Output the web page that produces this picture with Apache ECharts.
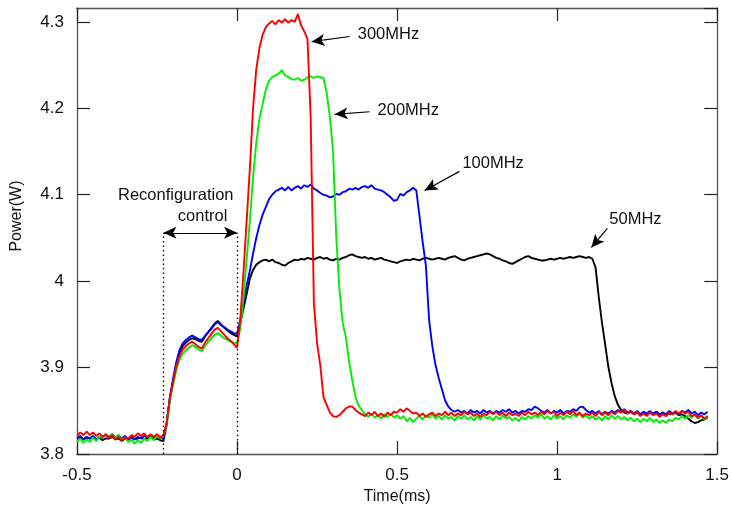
<!DOCTYPE html>
<html><head><meta charset="utf-8">
<script src="https://cdn.jsdelivr.net/npm/echarts@6/dist/echarts.min.js"></script>
<style>html,body{margin:0;padding:0;background:#fff}#c{width:732px;height:510px}</style>
</head><body><div id="c"></div>
<script>
// Time grid (ms)
const time = [
-0.50,-0.49,-0.48,-0.47,-0.46,-0.45,-0.44,-0.43,-0.42,-0.41,
-0.40,-0.39,-0.38,-0.37,-0.36,-0.35,-0.34,-0.33,-0.32,-0.31,
-0.30,-0.29,-0.28,-0.27,-0.26,-0.25,-0.24,-0.23,-0.22,-0.21,
-0.20,-0.19,-0.18,-0.17,-0.16,-0.15,-0.14,-0.13,-0.12,-0.11,
-0.10,-0.09,-0.08,-0.07,-0.06,-0.05,-0.04,-0.03,-0.02,-0.01,
0.00,0.01,0.02,0.03,0.04,0.05,0.06,0.07,0.08,0.09,
0.10,0.11,0.12,0.13,0.14,0.15,0.16,0.17,0.18,0.19,
0.20,0.21,0.22,0.23,0.24,0.25,0.26,0.27,0.28,0.29,
0.30,0.31,0.32,0.33,0.34,0.35,0.36,0.37,0.38,0.39,
0.40,0.41,0.42,0.43,0.44,0.45,0.46,0.47,0.48,0.49,
0.50,0.51,0.52,0.53,0.54,0.55,0.56,0.57,0.58,0.59,
0.60,0.61,0.62,0.63,0.64,0.65,0.66,0.67,0.68,0.69,
0.70,0.71,0.72,0.73,0.74,0.75,0.76,0.77,0.78,0.79,
0.80,0.81,0.82,0.83,0.84,0.85,0.86,0.87,0.88,0.89,
0.90,0.91,0.92,0.93,0.94,0.95,0.96,0.97,0.98,0.99,
1.00,1.01,1.02,1.03,1.04,1.05,1.06,1.07,1.08,1.09,
1.10,1.11,1.12,1.13,1.14,1.15,1.16,1.17,1.18,1.19,
1.20,1.21,1.22,1.23,1.24,1.25,1.26,1.27,1.28,1.29,
1.30,1.31,1.32,1.33,1.34,1.35,1.36,1.37,1.38,1.39,
1.40,1.41,1.42,1.43,1.44,1.45,1.46,1.47
];

// Power (W) at 300 MHz
const power300 = [
3.821,3.825,3.822,3.826,3.822,3.825,3.821,3.824,3.820,3.823,
3.819,3.822,3.817,3.820,3.816,3.819,3.818,3.822,3.820,3.824,
3.821,3.824,3.820,3.823,3.820,3.823,3.819,3.822,3.835,3.864,
3.883,3.901,3.913,3.921,3.925,3.928,3.930,3.927,3.924,3.922,
3.929,3.934,3.939,3.944,3.946,3.942,3.938,3.934,3.931,3.927,
3.923,3.955,4.010,4.070,4.130,4.200,4.245,4.270,4.285,4.294,
4.298,4.301,4.297,4.302,4.299,4.303,4.299,4.302,4.300,4.309,
4.296,4.289,4.280,4.190,3.975,3.928,3.903,3.866,3.857,3.848,
3.844,3.843,3.845,3.849,3.853,3.855,3.855,3.851,3.848,3.846,
3.844,3.848,3.845,3.849,3.844,3.847,3.843,3.848,3.845,3.849,
3.848,3.852,3.849,3.853,3.850,3.847,3.848,3.844,3.847,3.843,
3.846,3.848,3.844,3.847,3.845,3.849,3.845,3.848,3.844,3.847,
3.845,3.849,3.846,3.848,3.844,3.847,3.843,3.847,3.845,3.849,
3.846,3.849,3.845,3.848,3.844,3.848,3.845,3.847,3.844,3.848,
3.845,3.849,3.846,3.848,3.845,3.849,3.846,3.850,3.847,3.849,
3.844,3.848,3.845,3.849,3.846,3.850,3.845,3.848,3.844,3.847,
3.845,3.848,3.844,3.849,3.845,3.848,3.845,3.849,3.846,3.850,
3.848,3.851,3.847,3.850,3.846,3.849,3.844,3.847,3.844,3.848,
3.845,3.847,3.843,3.846,3.844,3.848,3.846,3.850,3.847,3.850,
3.847,3.849,3.844,3.846,3.842,3.845,3.841,3.844
];

// Power (W) at 200 MHz
const power200 = [
3.814,3.818,3.813,3.817,3.814,3.819,3.815,3.820,3.819,3.823,
3.820,3.823,3.819,3.822,3.817,3.819,3.814,3.817,3.812,3.816,
3.813,3.818,3.815,3.820,3.816,3.821,3.818,3.821,3.834,3.862,
3.880,3.897,3.909,3.916,3.920,3.923,3.926,3.924,3.921,3.919,
3.925,3.930,3.934,3.938,3.940,3.937,3.934,3.932,3.930,3.929,
3.928,3.945,3.980,4.025,4.070,4.120,4.160,4.188,4.205,4.222,
4.232,4.236,4.238,4.240,4.244,4.238,4.236,4.234,4.233,4.235,
4.232,4.233,4.236,4.237,4.235,4.237,4.236,4.235,4.218,4.190,
4.150,4.050,3.990,3.952,3.935,3.907,3.885,3.866,3.856,3.851,
3.846,3.843,3.847,3.842,3.845,3.841,3.846,3.843,3.847,3.842,
3.845,3.841,3.844,3.838,3.842,3.837,3.841,3.844,3.840,3.845,
3.842,3.846,3.841,3.844,3.840,3.845,3.841,3.843,3.839,3.844,
3.841,3.845,3.840,3.843,3.839,3.844,3.840,3.845,3.841,3.843,
3.839,3.844,3.840,3.845,3.841,3.843,3.839,3.842,3.838,3.843,
3.840,3.844,3.841,3.845,3.842,3.846,3.841,3.844,3.840,3.845,
3.841,3.844,3.840,3.845,3.842,3.846,3.843,3.847,3.842,3.845,
3.841,3.844,3.840,3.843,3.839,3.844,3.840,3.845,3.841,3.844,
3.840,3.843,3.839,3.842,3.838,3.841,3.837,3.841,3.838,3.842,
3.837,3.840,3.836,3.839,3.836,3.840,3.838,3.842,3.840,3.844,
3.841,3.845,3.842,3.846,3.841,3.844,3.840,3.843
];

// Power (W) at 100 MHz
const power100 = [
3.818,3.821,3.817,3.820,3.818,3.821,3.817,3.820,3.819,3.822,
3.820,3.823,3.819,3.822,3.818,3.821,3.817,3.820,3.817,3.820,
3.818,3.821,3.819,3.822,3.818,3.821,3.819,3.818,3.836,3.866,
3.887,3.906,3.920,3.928,3.932,3.935,3.937,3.935,3.933,3.932,
3.937,3.941,3.945,3.950,3.953,3.949,3.947,3.944,3.942,3.940,
3.939,3.955,3.975,3.995,4.012,4.032,4.050,4.065,4.077,4.086,
4.095,4.100,4.104,4.106,4.108,4.105,4.109,4.105,4.108,4.110,
4.107,4.111,4.109,4.112,4.107,4.105,4.102,4.100,4.099,4.097,
4.098,4.101,4.100,4.103,4.104,4.107,4.106,4.108,4.106,4.109,
4.110,4.108,4.111,4.107,4.106,4.105,4.103,4.100,4.097,4.093,
4.094,4.101,4.099,4.103,4.105,4.108,4.105,4.075,4.045,4.018,
3.955,3.925,3.903,3.888,3.875,3.862,3.855,3.851,3.849,3.851,
3.848,3.850,3.847,3.851,3.848,3.850,3.847,3.851,3.848,3.850,
3.847,3.850,3.848,3.851,3.849,3.852,3.848,3.850,3.847,3.850,
3.849,3.852,3.851,3.855,3.853,3.850,3.848,3.851,3.847,3.850,
3.848,3.851,3.847,3.850,3.849,3.852,3.850,3.854,3.855,3.851,
3.848,3.850,3.847,3.850,3.846,3.849,3.847,3.850,3.848,3.851,
3.849,3.852,3.848,3.850,3.847,3.850,3.846,3.849,3.847,3.850,
3.846,3.849,3.845,3.848,3.846,3.850,3.847,3.849,3.846,3.850,
3.848,3.851,3.847,3.849,3.845,3.848,3.846,3.849
];

// Power (W) at 50 MHz
const power50 = [
3.818,3.820,3.817,3.819,3.818,3.820,3.817,3.819,3.816,3.818,
3.818,3.820,3.817,3.818,3.815,3.818,3.817,3.819,3.817,3.818,
3.819,3.817,3.818,3.820,3.817,3.818,3.816,3.815,3.834,3.864,
3.884,3.903,3.917,3.925,3.929,3.932,3.934,3.933,3.931,3.930,
3.936,3.941,3.946,3.951,3.954,3.950,3.946,3.943,3.940,3.938,
3.936,3.952,3.968,3.985,4.003,4.013,4.019,4.022,4.024,4.025,
4.023,4.025,4.022,4.021,4.019,4.018,4.021,4.023,4.025,4.024,
4.026,4.025,4.027,4.026,4.025,4.027,4.028,4.026,4.027,4.025,
4.024,4.026,4.025,4.027,4.028,4.030,4.031,4.029,4.028,4.027,
4.028,4.026,4.027,4.025,4.026,4.027,4.025,4.024,4.023,4.022,
4.021,4.023,4.024,4.025,4.024,4.026,4.025,4.024,4.026,4.027,
4.026,4.025,4.026,4.027,4.026,4.025,4.027,4.028,4.029,4.027,
4.025,4.024,4.026,4.027,4.028,4.029,4.030,4.031,4.032,4.031,
4.029,4.027,4.026,4.024,4.023,4.021,4.020,4.022,4.024,4.026,
4.028,4.029,4.027,4.026,4.025,4.024,4.024,4.025,4.026,4.025,
4.026,4.027,4.026,4.027,4.028,4.027,4.028,4.029,4.028,4.027,
4.028,4.026,4.016,3.982,3.952,3.927,3.901,3.882,3.867,3.857,
3.851,3.848,3.847,3.849,3.846,3.848,3.845,3.848,3.846,3.849,
3.847,3.849,3.846,3.848,3.845,3.847,3.846,3.848,3.845,3.846,
3.844,3.841,3.838,3.836,3.837,3.839,3.840,3.842
];

const xTicks = [-0.5, 0, 0.5, 1, 1.5];
const yTicks = [3.8, 3.9, 4.0, 4.1, 4.2, 4.3];

// Annotation anchors in data coordinates
const labels = [
  {text: '300MHz', t: 0.377, p: 4.285},
  {text: '200MHz', t: 0.439, p: 4.197},
  {text: '100MHz', t: 0.704, p: 4.136},
  {text: '50MHz',  t: 1.163, p: 4.071},
  {text: 'Reconfiguration', t: -0.372, p: 4.099},
  {text: 'control', t: -0.185, p: 4.075}
];
const arrows = [
  [[0.352, 4.283], [0.233, 4.277]],
  [[0.414, 4.196], [0.305, 4.193]],
  [[0.695, 4.127], [0.586, 4.105]],
  [[1.157, 4.061], [1.107, 4.039]]
];
const reconfStart = -0.23, reconfEnd = 0.0, reconfLevel = 4.056;

const FONT = 'Liberation Sans, Arial, Helvetica, sans-serif';
const chart = echarts.init(document.getElementById('c'), null, {renderer: 'canvas'});

function pairs(vals) { return vals.map((v, i) => [time[i], v]); }
const fmtX = v => xTicks.some(t => Math.abs(t - v) < 1e-9) ? String(v) : '';
const fmtY = v => yTicks.some(t => Math.abs(t - v) < 1e-9) ? (Math.round(v * 10) / 10).toString() : '';

const axisCommon = () => ({
  axisLine: {show: true, onZero: false, lineStyle: {color: '#555', width: 1.3}},
  axisTick: {show: true, inside: true, length: 13, lineStyle: {color: '#222', width: 1.2}},
  splitLine: {show: false}
});

const lineSeries = (name, vals, color) => ({
  name, type: 'line', data: pairs(vals), showSymbol: false, symbol: 'none',
  lineStyle: {color, width: 1.9}, itemStyle: {color}, animation: false, z: 2
});

const markLines = [];
arrows.forEach(a => markLines.push([
  {coord: a[0], symbol: 'none'},
  {coord: a[1], symbol: 'arrow', symbolSize: [9, 13]}
]));
markLines.push([
  {coord: [reconfStart, reconfLevel], symbol: 'arrow', symbolSize: [9, 13]},
  {coord: [reconfEnd, reconfLevel], symbol: 'arrow', symbolSize: [9, 13]}
]);

const option = {
  backgroundColor: '#fff',
  animation: false,
  grid: {left: 77, right: 14, top: 8, bottom: 52, containLabel: false},
  xAxis: [
    Object.assign({
      type: 'value', min: -0.5, max: 1.5, interval: 0.5, position: 'bottom',
      name: 'Time(ms)', nameLocation: 'middle', nameGap: 31,
      nameTextStyle: {fontFamily: FONT, fontSize: 16, color: '#111'},
      axisLabel: {formatter: fmtX, fontFamily: FONT, fontSize: 17, color: '#111', margin: 13}
    }, axisCommon()),
    Object.assign({
      type: 'value', min: -0.5, max: 1.5, interval: 0.5, position: 'top',
      axisLabel: {show: false}
    }, axisCommon())
  ],
  yAxis: [
    Object.assign({
      type: 'value', min: 3.8, max: 4.316, interval: 0.1, position: 'left',
      axisLabel: {formatter: fmtY, fontFamily: FONT, fontSize: 17, color: '#111', margin: 13, showMaxLabel: false}
    }, axisCommon()),
    Object.assign({
      type: 'value', min: 3.8, max: 4.316, interval: 0.1, position: 'right',
      axisLabel: {show: false}
    }, axisCommon())
  ],
  series: [
    lineSeries('50MHz', power50, '#000000'),
    lineSeries('100MHz', power100, '#0000ff'),
    lineSeries('200MHz', power200, '#00ee00'),
    lineSeries('300MHz', power300, '#ff0000'),
    {
      name: 'annot', type: 'line', data: [], silent: true, z: 5,
      markLine: {
        silent: true, animation: false, symbol: ['none', 'arrow'],
        label: {show: false},
        lineStyle: {color: '#000', width: 1.2, type: 'solid'},
        itemStyle: {color: '#000'},
        data: markLines
      }
    },
    {
      name: 'dots', type: 'line', data: [], silent: true, z: 1,
      markLine: {
        silent: true, animation: false, symbol: ['none', 'none'],
        label: {show: false},
        lineStyle: {color: '#000', width: 1.3, type: [1.5, 3]},
        data: [
          [{coord: [reconfStart, 3.8]}, {coord: [reconfStart, reconfLevel]}],
          [{coord: [reconfEnd, 3.8]}, {coord: [reconfEnd, reconfLevel]}]
        ]
      }
    }
  ]
};
chart.setOption(option);

const gfx = labels.map(l => {
  const p = chart.convertToPixel({gridIndex: 0}, [l.t, l.p]);
  return {
    type: 'text', x: p[0], y: p[1], silent: true, z: 10,
    style: {text: l.text, font: '16.5px ' + FONT, fill: '#111', textAlign: 'left', textVerticalAlign: 'middle'}
  };
});
gfx.push({
  type: 'text', x: 17, y: 216, rotation: Math.PI / 2, silent: true, z: 10,
  style: {text: 'Power(W)', font: '16px ' + FONT, fill: '#111', textAlign: 'center', textVerticalAlign: 'middle'}
});
chart.setOption({graphic: gfx});
</script>
</body></html>
